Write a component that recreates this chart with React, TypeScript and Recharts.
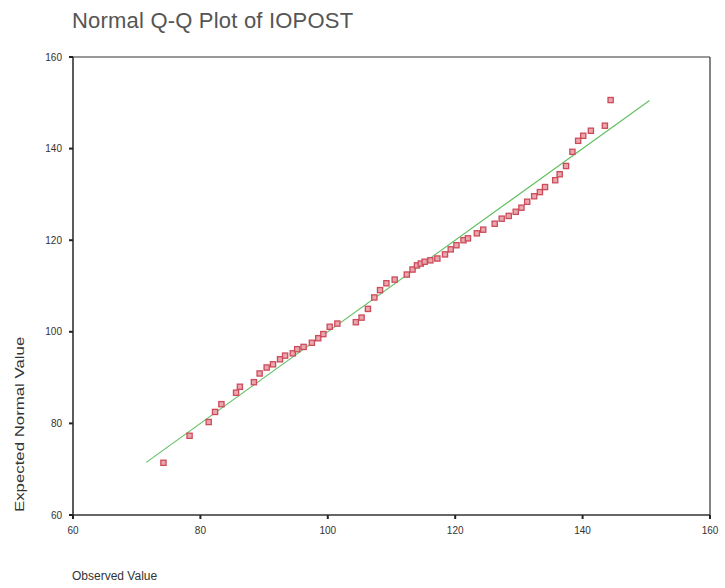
import React from "react";
import { ScatterChart, Scatter, XAxis, YAxis, ReferenceLine } from "recharts";

const observed = [74.2, 78.3, 81.3, 82.3, 83.3, 85.6, 86.2, 88.4, 89.3, 90.4, 91.4, 92.5, 93.3, 94.5, 95.2, 96.2, 97.5, 98.5, 99.3, 100.3, 101.5, 104.4, 105.3, 106.3, 107.3, 108.2, 109.2, 110.5, 112.4, 113.3, 114.0, 114.6, 115.2, 116.1, 117.2, 118.4, 119.3, 120.2, 121.3, 122.0, 123.4, 124.4, 126.2, 127.3, 128.4, 129.5, 130.4, 131.3, 132.4, 133.3, 134.1, 135.7, 136.4, 137.4, 138.4, 139.3, 140.1, 141.3, 143.5, 144.4];
const expected = [71.4, 77.3, 80.3, 82.5, 84.2, 86.7, 88.0, 89.0, 90.9, 92.2, 92.9, 94.0, 94.8, 95.3, 96.2, 96.7, 97.6, 98.6, 99.5, 101.1, 101.8, 102.1, 103.1, 105.0, 107.5, 109.1, 110.6, 111.4, 112.5, 113.6, 114.5, 114.9, 115.3, 115.6, 116.0, 116.9, 118.0, 118.9, 120.0, 120.4, 121.5, 122.3, 123.6, 124.7, 125.3, 126.2, 127.1, 128.4, 129.6, 130.5, 131.6, 133.1, 134.4, 136.2, 139.3, 141.7, 142.8, 143.9, 145.0, 150.6];
const xTicks = [60, 80, 100, 120, 140, 160];
const yTicks = [60, 80, 100, 120, 140, 160];
const fitLine = [71.5, 150.5];

const points = observed.map((x, i) => ({ x, y: expected[i] }));

const SquareShape = (props: any) => {
  const { cx, cy } = props;
  if (cx == null || cy == null) return null;
  return (
    <rect
      x={cx - 2.6}
      y={cy - 2.6}
      width={5.2}
      height={5.2}
      fill="#eaa6ae"
      stroke="#cc4b59"
      strokeWidth={1.3}
    />
  );
};

const tickStyle = { fontSize: 10, fill: "#333", fontFamily: "Arial, 'Liberation Sans', sans-serif" };

export default function App() {
  return (
    <div
      style={{
        position: "relative",
        width: 725,
        height: 588,
        overflow: "hidden",
        fontFamily: "Arial, 'Liberation Sans', sans-serif",
        background: "#fff",
      }}
    >
      <style>{`body { margin: 0; }`}</style>
      <div
        style={{
          position: "absolute",
          left: 72,
          top: 10,
          fontSize: 22,
          lineHeight: "22px",
          color: "#555",
          letterSpacing: "0.2px",
          whiteSpace: "nowrap",
        }}
      >
        Normal Q-Q Plot of IOPOST
      </div>
      <div style={{ position: "absolute", left: 8, top: 8 }}>
        <ScatterChart width={717} height={570} margin={{ top: 49, right: 15, bottom: 33, left: 0 }}>
          <XAxis
            type="number"
            dataKey="x"
            domain={[60, 160]}
            ticks={xTicks}
            interval={0}
            axisLine={{ stroke: "#333", strokeWidth: 1.6 }}
            tickLine={{ stroke: "#222", strokeWidth: 2 }}
            tickSize={4}
            tickMargin={8}
            height={30}
            tick={tickStyle}
          />
          <YAxis
            type="number"
            dataKey="y"
            domain={[60, 160]}
            ticks={yTicks}
            interval={0}
            axisLine={{ stroke: "#333", strokeWidth: 1.6 }}
            tickLine={{ stroke: "#222", strokeWidth: 2 }}
            tickSize={4}
            tickMargin={7}
            width={65}
            tick={tickStyle}
          />
          <ReferenceLine y={160} stroke="#333" strokeWidth={1.2} />
          <ReferenceLine x={160} stroke="#333" strokeWidth={1.2} />
          <ReferenceLine
            segment={[
              { x: fitLine[0], y: fitLine[0] },
              { x: fitLine[1], y: fitLine[1] },
            ]}
            stroke="#5fbf5f"
            strokeWidth={1.1}
          />
          <Scatter data={points} shape={SquareShape} isAnimationActive={false} />
        </ScatterChart>
      </div>
      <div
        style={{
          position: "absolute",
          left: 72,
          top: 570,
          fontSize: 12,
          lineHeight: "12px",
          color: "#333",
          whiteSpace: "nowrap",
        }}
      >
        Observed Value
      </div>
      <div
        style={{
          position: "absolute",
          left: 14,
          top: 512,
          fontSize: 12,
          lineHeight: "12px",
          color: "#333",
          whiteSpace: "nowrap",
          transform: "rotate(-90deg) scaleX(1.4)",
          transformOrigin: "0 0",
        }}
      >
        Expected Normal Value
      </div>
    </div>
  );
}
